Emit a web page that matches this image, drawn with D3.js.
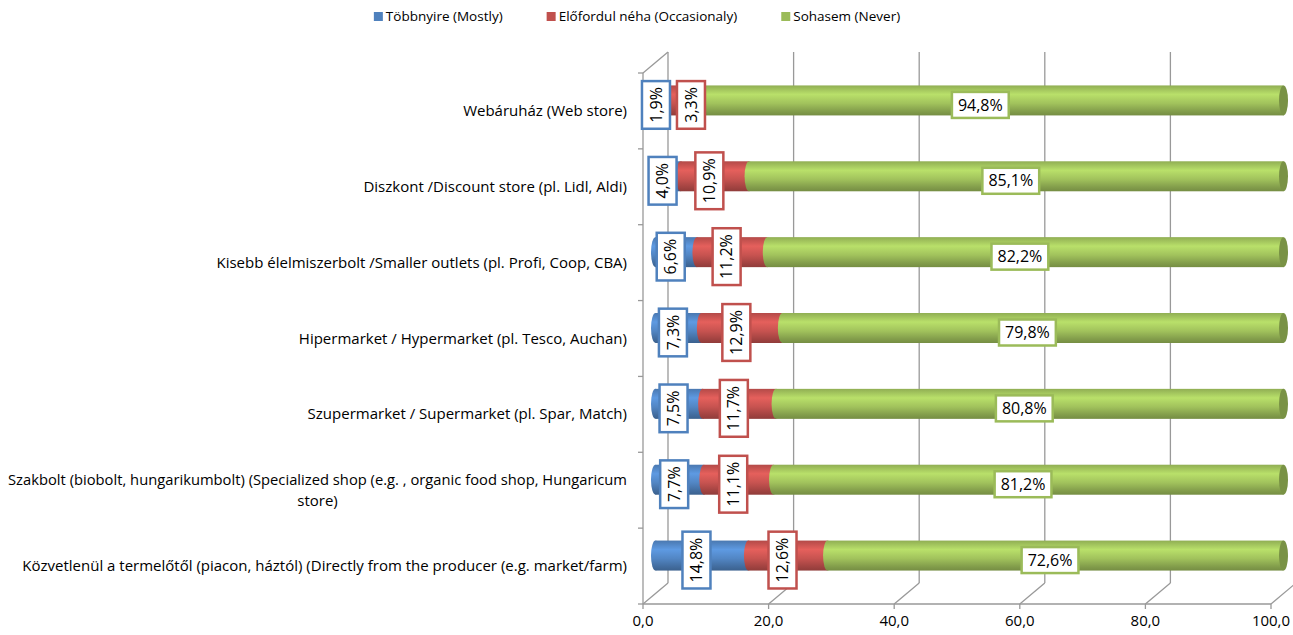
<!DOCTYPE html>
<html>
<head>
<meta charset="utf-8">
<script src="https://cdn.jsdelivr.net/npm/d3@7"></script>
<style>
  body { margin: 0; background: #fff; }
  svg text { font-family: "Open Sans", sans-serif; fill: #000; }
</style>
</head>
<body>
<svg id="chart" width="1293" height="635"></svg>
<script>
var categories = [
  "Webáruház (Web store)",
  "Diszkont /Discount store (pl. Lidl, Aldi)",
  "Kisebb élelmiszerbolt /Smaller outlets (pl. Profi, Coop, CBA)",
  "Hipermarket / Hypermarket (pl. Tesco, Auchan)",
  "Szupermarket / Supermarket (pl. Spar, Match)",
  "Szakbolt (biobolt, hungarikumbolt) (Specialized shop (e.g. , organic food shop, Hungaricum|store)",
  "Közvetlenül a termelőtől (piacon, háztól) (Directly from the producer (e.g. market/farm)"
]
var mostly      = [1.9, 4.0, 6.6, 7.3, 7.5, 7.7, 14.8]
var occasionaly = [3.3, 10.9, 11.2, 12.9, 11.7, 11.1, 12.6]
var never       = [94.8, 85.1, 82.2, 79.8, 80.8, 81.2, 72.6]
var seriesNames = ["Többnyire (Mostly)", "Előfordul néha (Occasionaly)", "Sohasem (Never)"]
var colors = ["#4F81BD", "#C0504D", "#9BBB59"]
var xTicks = [0, 20, 40, 60, 80, 100]

var svg = d3.select('#chart')

var x = d3.scaleLinear().domain([0, 100]).range([643, 1271])
var y = d3.scaleBand().domain(categories).range([73, 604])
var DX = 25, DY = -21          // depth offset of the back wall
var barH = 30, capRx = 4.5
var fmt = function(v) { return v.toFixed(1).replace('.', ',') }

// gradients for the cylinders
var defs = svg.append('defs')
colors.forEach(function(c, i) {
  var base = d3.color(c)
  var g = defs.append('linearGradient').attr('id', 'grad' + i)
    .attr('x1', 0).attr('y1', 0).attr('x2', 0).attr('y2', 1)
  var stops = [
    [0, base.darker(0.2)], [0.3, base.brighter(0.5)], [0.6, base.brighter(0.1)],
    [0.85, base.darker(0.45)], [1, base.darker(0.8)]
  ]
  stops.forEach(function(s) {
    g.append('stop').attr('offset', s[0]).attr('stop-color', s[1].formatHex())
  })
})

var grid = svg.append('g').attr('stroke', '#999').attr('stroke-width', 1.3).attr('fill', 'none')

// back wall gridlines
grid.selectAll('line.v').data(xTicks).enter().append('line')
  .attr('x1', function(d) { return x(d) + DX }).attr('x2', function(d) { return x(d) + DX })
  .attr('y1', 73 + DY).attr('y2', 604 + DY)

// floor diagonals
grid.selectAll('line.d').data(xTicks).enter().append('line')
  .attr('x1', function(d) { return x(d) }).attr('y1', 604)
  .attr('x2', function(d) { return x(d) + DX }).attr('y2', 604 + DY)

// front axes
grid.append('line').attr('x1', x(0)).attr('x2', x(100)).attr('y1', 604).attr('y2', 604)
grid.append('line').attr('x1', x(0)).attr('x2', x(0)).attr('y1', 73).attr('y2', 604)
grid.append('line').attr('x1', x(0)).attr('y1', 73).attr('x2', x(0) + DX).attr('y2', 73 + DY)
grid.selectAll('line.t').data(xTicks).enter().append('line')
  .attr('x1', function(d) { return x(d) }).attr('x2', function(d) { return x(d) })
  .attr('y1', 604).attr('y2', 609)
var yTickPos = categories.map(function(c) { return y(c) }).concat([604])
grid.selectAll('line.yt').data(yTickPos).enter().append('line')
  .attr('x1', x(0) - 5).attr('x2', x(0)).attr('y1', function(d) { return d }).attr('y2', function(d) { return d })

// x tick labels
svg.append('g').selectAll('text').data(xTicks).enter().append('text')
  .attr('x', function(d) { return x(d) }).attr('y', 626)
  .attr('text-anchor', 'middle').style('font-size', '15px')
  .text(fmt)

// category labels
var catG = svg.append('g')
var maxW = 619
categories.forEach(function(c) {
  var lines = c.split('|')
  var yc = y(c) + y.bandwidth() / 2
  var t = catG.append('text').style('font-size', '15px').attr('text-anchor', 'end')
  if (lines.length === 1) {
    t.attr('x', 627).attr('y', yc + 5).text(c)
  } else {
    t.attr('x', 627).attr('y', yc - 5).text(lines[0])
  }
  var w = t.node().getComputedTextLength()
  if (w > maxW) {
    t.attr('textLength', maxW).attr('lengthAdjust', 'spacingAndGlyphs')
    w = maxW
  }
  if (lines.length > 1) {
    catG.append('text').style('font-size', '15px').attr('text-anchor', 'middle')
      .attr('x', 627 - w / 2).attr('y', yc + 16).text(lines[1])
  }
})

// bars (cylinders seen slightly from the right: each segment's left face
// overlaps the previous one, the last one shows its end face)
var rows = categories.map(function(c, i) {
  return { cat: c, vals: [mostly[i], occasionaly[i], never[i]] }
})

var barsG = svg.append('g')
rows.forEach(function(r) {
  var yc = y(r.cat) + y.bandwidth() / 2 + DY / 2
  var starts = [0, r.vals[0], r.vals[0] + r.vals[1]]
  var g = barsG.append('g')
  for (var s = 0; s < 3; s++) {
    var x0 = x(starts[s]) + DX / 2, x1 = x(starts[s] + r.vals[s]) + DX / 2
    g.append('ellipse').attr('cx', x0).attr('cy', yc).attr('rx', capRx).attr('ry', barH / 2)
      .attr('fill', 'url(#grad' + s + ')')
    g.append('rect').attr('x', x0).attr('y', yc - barH / 2)
      .attr('width', x1 - x0).attr('height', barH).attr('fill', 'url(#grad' + s + ')')
    if (s === 2) {
      g.append('ellipse').attr('cx', x1).attr('cy', yc).attr('rx', capRx).attr('ry', barH / 2)
        .attr('fill', d3.color(colors[2]).darker(0.7).formatHex())
    }
  }
})

// data labels
var labG = svg.append('g')
rows.forEach(function(r) {
  var ly = y(r.cat) + y.bandwidth() / 2 - 6
  var starts = [0, r.vals[0], r.vals[0] + r.vals[1]]
  var prevCx = -Infinity
  for (var s = 0; s < 3; s++) {
    var cx = x(starts[s] + r.vals[s] / 2) + 7
    var g = labG.append('g')
    var t = g.append('text').style('font-size', '16px').attr('text-anchor', 'middle')
      .attr('dy', '0.35em').text(fmt(r.vals[s]) + '%')
    var w = t.node().getComputedTextLength()
    var bh = 26
    if (s < 2) {
      cx = Math.max(cx, prevCx + 35)
      prevCx = cx
      bh = 28
      g.attr('transform', 'translate(' + cx + ',' + ly + ') rotate(-90)')
    } else {
      g.attr('transform', 'translate(' + cx + ',' + ly + ')')
    }
    g.insert('rect', 'text')
      .attr('x', -w / 2 - 6).attr('y', -bh / 2).attr('width', w + 12).attr('height', bh)
      .attr('fill', '#fff').attr('stroke', colors[s]).attr('stroke-width', 2.5)
  }
})

// legend
var legG = svg.append('g')
var lx = 0
seriesNames.forEach(function(n, i) {
  var item = legG.append('g').attr('transform', 'translate(' + lx + ',0)')
  item.append('rect').attr('x', 0).attr('y', 12).attr('width', 9).attr('height', 9).attr('fill', colors[i])
  var t = item.append('text').attr('x', 12).attr('y', 21).style('font-size', '13.5px').text(n)
  lx += 12 + t.node().getComputedTextLength() + 44
})
var legW = lx - 44
legG.attr('transform', 'translate(' + (637 - legW / 2) + ',0)')
</script>
</body>
</html>
